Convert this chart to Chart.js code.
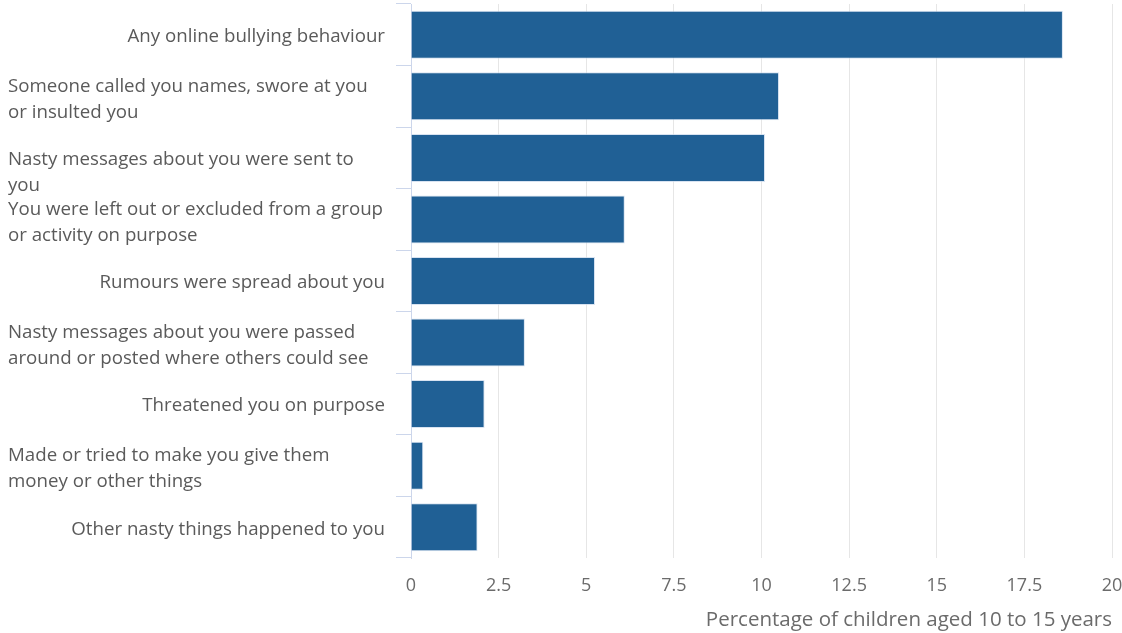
<!DOCTYPE html>
<html>
<head>
<meta charset="utf-8">
<script src="https://cdn.jsdelivr.net/npm/chart.js@4/dist/chart.umd.min.js"></script>
<style>
  html, body { margin: 0; padding: 0; background: #fff; overflow: hidden; }
  #wrap { width: 1122px; height: 633px; position: relative; }
</style>
</head>
<body>
<div id="wrap"><canvas id="c"></canvas></div>
<script>
// ---- Data ----
const categories = [
  ["Any online bullying behaviour"],
  ["Someone called you names, swore at you", "or insulted you"],
  ["Nasty messages about you were sent to", "you"],
  ["You were left out or excluded from a group", "or activity on purpose"],
  ["Rumours were spread about you"],
  ["Nasty messages about you were passed", "around or posted where others could see"],
  ["Threatened you on purpose"],
  ["Made or tried to make you give them", "money or other things"],
  ["Other nasty things happened to you"]
];
const percentages = [18.6, 10.5, 10.1, 6.1, 5.25, 3.25, 2.1, 0.35, 1.9];
const xTicks = [0, 2.5, 5, 7.5, 10, 12.5, 15, 17.5, 20];
const xAxisTitle = "Percentage of children aged 10 to 15 years";

// label index whose first line sits on the category centre (overflowing label)
const overflowLabels = [2];

const FONT = "'Open Sans', 'Noto Sans', sans-serif";

const labelPlugin = {
  id: 'catLabels',
  afterDraw(chart) {
    const ctx = chart.ctx;
    const y = chart.scales.y;
    const lineH = 26;
    ctx.save();
    ctx.font = "18.7px " + FONT;
    ctx.fillStyle = "#5a5a5a";
    ctx.textBaseline = "middle";
    categories.forEach((lines, i) => {
      const cy = y.getPixelForValue(i) + 2;
      if (lines.length === 1) {
        ctx.textAlign = "right";
        ctx.fillText(lines[0], 385, cy);
      } else {
        ctx.textAlign = "left";
        let start = overflowLabels.includes(i) ? cy : cy + 1.5 - (lines.length - 1) * lineH / 2;
        lines.forEach((ln, k) => ctx.fillText(ln, 8, start + k * lineH));
      }
    });
    ctx.restore();
  }
};

new Chart(document.getElementById('c'), {
  type: 'bar',
  data: {
    labels: categories.map(l => l.join(' ')),
    datasets: [{
      data: percentages,
      backgroundColor: '#206095',
      borderColor: 'rgba(200,215,235,0.7)',
      borderWidth: 1,
      barPercentage: 0.78,
      categoryPercentage: 1.0
    }]
  },
  options: {
    indexAxis: 'y',
    responsive: true,
    maintainAspectRatio: false,
    animation: false,
    layout: { padding: { top: 4, right: 10, left: 0, bottom: 0 } },
    plugins: { legend: { display: false }, tooltip: { enabled: false } },
    scales: {
      x: {
        min: 0, max: 20,
        afterBuildTicks(scale) { scale.ticks = xTicks.map(v => ({ value: v })); },
        afterFit(scale) { scale.height = 75; scale.paddingRight = 0; scale.paddingLeft = 0; },
        grid: { color: '#e6e6e6', lineWidth: 1, drawTicks: false },
        border: { display: false },
        ticks: {
          color: '#6b6b6b',
          font: { family: FONT, size: 18 },
          padding: 17,
          maxRotation: 0,
          callback: v => String(v)
        },
        title: {
          display: true,
          text: xAxisTitle,
          align: 'end',
          color: '#6b6b6b',
          font: { family: FONT, size: 20.5 },
          padding: { top: 0, bottom: 1 }
        }
      },
      y: {
        afterFit(scale) { scale.width = 411; },
        grid: { drawOnChartArea: false, drawTicks: true, tickLength: 15, color: '#ccd6eb', offset: true },
        border: { display: true, color: '#ccd6eb', width: 1 },
        ticks: { display: false }
      }
    }
  },
  plugins: [labelPlugin]
});
</script>
</body>
</html>
